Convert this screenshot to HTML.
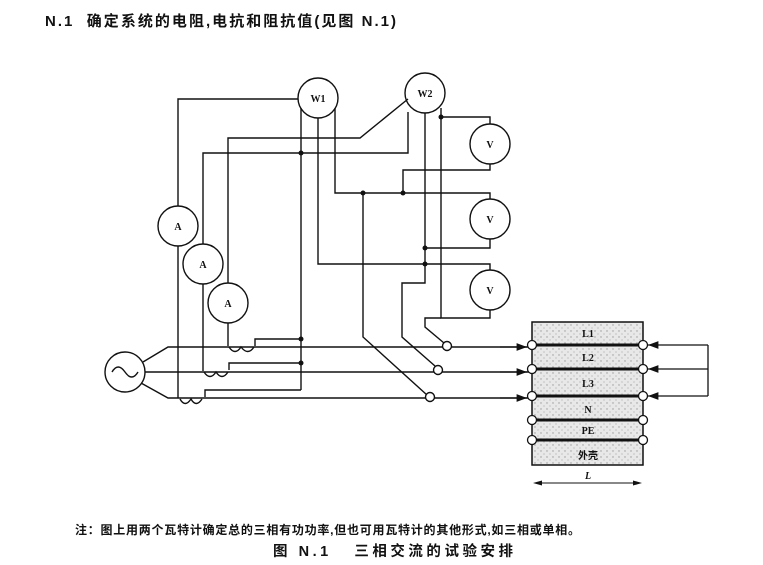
<!DOCTYPE html>
<html><head><meta charset="utf-8"><style>
body{margin:0;background:#fff;}
svg{display:block;}
text{font-family:"Liberation Serif","Noto Serif CJK SC","Noto Sans CJK SC",serif;fill:#111;}
.c{font-family:"Liberation Sans","Noto Sans CJK SC",sans-serif;}
</style></head><body>
<svg width="763" height="565" viewBox="0 0 763 565" xmlns="http://www.w3.org/2000/svg">
<defs>
<pattern id="dots" width="6" height="6" patternUnits="userSpaceOnUse">
<rect width="6" height="6" fill="#e8e8e8"/><circle cx="1" cy="1" r="0.7" fill="#999"/><circle cx="4" cy="4" r="0.6" fill="#aaa"/>
</pattern>
<marker id="ar" markerWidth="8" markerHeight="6" refX="8" refY="3" orient="auto"><path d="M0,0 L8,3 L0,6 z" fill="#111"/></marker>
</defs>
<text x="45" y="26" font-size="15" font-weight="bold" class="c" textLength="351" lengthAdjust="spacing">N.1&#160;&#160;确定系统的电阻,电抗和阻抗值(见图 N.1)</text>

<g stroke="#111" stroke-width="1.4" fill="none">
<circle cx="318" cy="98" r="20" fill="#fff"/>
<circle cx="425" cy="93" r="20" fill="#fff"/>
<circle cx="490" cy="144" r="20" fill="#fff"/>
<circle cx="490" cy="219" r="20" fill="#fff"/>
<circle cx="490" cy="290" r="20" fill="#fff"/>
<circle cx="178" cy="226" r="20" fill="#fff"/>
<circle cx="203" cy="264" r="20" fill="#fff"/>
<circle cx="228" cy="303" r="20" fill="#fff"/>
<circle cx="125" cy="372" r="20" fill="#fff"/>
<path d="M112,372 q6,-10 13,0 q7,10 13,0"/>
<path d="M143,362 L168,347 H532"/>
<path d="M145,372 H532"/>
<path d="M141,383 L168,398 H532"/>
<path d="M178,206 V99 H298"/>
<path d="M178,246 V398"/>
<path d="M180,399 q5,9 11,0 q5,9 11,0"/>
<path d="M205,397 V390 H301"/>
<path d="M203,244 V153 H408 V112"/>
<path d="M203,284 V371"/>
<path d="M204,372 q6,9 12,0 q6,9 12,0"/>
<path d="M229,370 V363 H301"/>
<path d="M228,283 V138 H360 L408,99"/>
<path d="M228,323 V346"/>
<path d="M229,347 q6,9 12,0 q7,9 13,0"/>
<path d="M255,346 V339 H301"/>
<path d="M301,108 V390"/>
<path d="M318,118 V264 H490 V270"/>
<path d="M335,108 V193 H490 V199"/>
<path d="M425,113 V283 H402 V337 L435,366"/>
<path d="M441,108 V318 H490 V310"/>
<path d="M441,117 H490 V124"/>
<path d="M490,164 V170 H403 V193"/>
<path d="M490,239 V248 H425"/>
<path d="M441,318 H425 V327 L444,343"/>
<path d="M363,193 V337 L427,395"/>
<circle cx="447" cy="346" r="4.5" fill="#fff"/>
<circle cx="438" cy="370" r="4.5" fill="#fff"/>
<circle cx="430" cy="397" r="4.5" fill="#fff"/>
</g>
<g fill="#111">
<circle cx="301" cy="153" r="2.5"/><circle cx="301" cy="339" r="2.5"/><circle cx="301" cy="363" r="2.5"/>
<circle cx="363" cy="193" r="2.5"/><circle cx="403" cy="193" r="2.5"/><circle cx="441" cy="117" r="2.5"/>
<circle cx="425" cy="248" r="2.5"/><circle cx="425" cy="264" r="2.5"/>
</g>
<g font-size="10" text-anchor="middle" font-weight="bold">
<text x="318" y="102">W1</text><text x="425" y="97">W2</text>
<text x="490" y="148">V</text><text x="490" y="223">V</text><text x="490" y="294">V</text>
<text x="178" y="230">A</text><text x="203" y="268">A</text><text x="228" y="307">A</text>
</g>

<rect x="532" y="322" width="111" height="143" fill="url(#dots)" stroke="#111" stroke-width="1.5"/>
<g stroke="#111" stroke-width="3">
<line x1="532" y1="345" x2="643" y2="345"/><line x1="532" y1="369" x2="643" y2="369"/>
<line x1="532" y1="396" x2="643" y2="396"/><line x1="532" y1="420" x2="643" y2="420"/>
<line x1="532" y1="440" x2="643" y2="440"/>
</g>
<g stroke="#111" stroke-width="1.3" fill="#fff">
<circle cx="532" cy="345" r="4.5"/><circle cx="532" cy="369" r="4.5"/><circle cx="532" cy="396" r="4.5"/>
<circle cx="532" cy="420" r="4.5"/><circle cx="532" cy="440" r="4.5"/>
<circle cx="643" cy="345" r="4.5"/><circle cx="643" cy="369" r="4.5"/><circle cx="643" cy="396" r="4.5"/>
<circle cx="643" cy="420" r="4.5"/><circle cx="643" cy="440" r="4.5"/>
</g>
<g stroke="#111" stroke-width="1.3" fill="none">
<path d="M708,345 V396"/>
<path d="M708,345 H648" marker-end="url(#ar)"/>
<path d="M708,369 H648" marker-end="url(#ar)"/>
<path d="M708,396 H648" marker-end="url(#ar)"/>
<path d="M500,347 H527" marker-end="url(#ar)"/>
<path d="M500,372 H527" marker-end="url(#ar)"/>
<path d="M500,398 H527" marker-end="url(#ar)"/>
<path d="M535,483 H640" stroke-width="1"/>
</g>
<path d="M533,483 l9,-2.5 v5 z M642,483 l-9,-2.5 v5 z" fill="#111"/>
<g font-size="10" text-anchor="middle" font-weight="bold">
<text x="588" y="337">L1</text><text x="588" y="361">L2</text><text x="588" y="387">L3</text>
<text x="588" y="413">N</text><text x="588" y="434">PE</text><text x="588" y="459" class="c">外壳</text>
<text x="588" y="479" font-style="italic">L</text>
</g>

<text x="75" y="534" font-size="12" class="c" font-weight="bold" textLength="505" lengthAdjust="spacing">注：图上用两个瓦特计确定总的三相有功功率,但也可用瓦特计的其他形式,如三相或单相。</text>
<text x="273" y="556" font-size="14.5" font-weight="bold" class="c" textLength="240" lengthAdjust="spacing">图 N.1&#160;&#160;&#160;三相交流的试验安排</text>
</svg>
</body></html>
